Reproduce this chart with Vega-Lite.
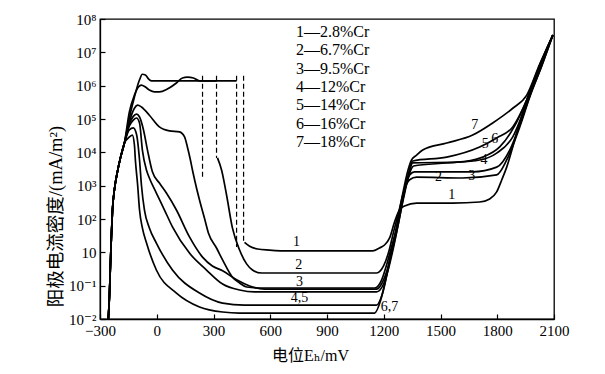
{
  "$schema": "https://vega.github.io/schema/vega-lite/v6.json",
  "width": 454,
  "height": 300,
  "autosize": "none",
  "padding": {"left": 100, "top": 19, "right": 51, "bottom": 55},
  "background": "white",
  "config": {
    "view": {"stroke": "black", "strokeWidth": 1.3},
    "axis": {
      "grid": false,
      "domainColor": "black",
      "domainWidth": 1.3,
      "tickColor": "black",
      "tickWidth": 1.2,
      "tickSize": -5,
      "labelColor": "black",
      "labelFont": "Liberation Serif, DejaVu Serif",
      "labelFontSize": 15,
      "labelFlush": false,
      "labelOverlap": false,
      "labelPadding": 9,
      "titleColor": "black",
      "titleFont": "Liberation Serif, Noto Sans CJK SC, DejaVu Serif",
      "titleFontWeight": "normal"
    }
  },
  "datasets": {
    "curves": [
      {"a":"1—2.8%Cr","s":"1a","x":-256,"y":0.1},{"a":"1—2.8%Cr","s":"1a","x":-250,"y":0.52},{"a":"1—2.8%Cr","s":"1a","x":-245,"y":4.2},{"a":"1—2.8%Cr","s":"1a","x":-240,"y":29},{"a":"1—2.8%Cr","s":"1a","x":-234,"y":186},{"a":"1—2.8%Cr","s":"1a","x":-224,"y":740},{"a":"1—2.8%Cr","s":"1a","x":-208,"y":2600},{"a":"1—2.8%Cr","s":"1a","x":-192,"y":6800},{"a":"1—2.8%Cr","s":"1a","x":-171,"y":19000},
      {"a":"1—2.8%Cr","s":"1a","x":-145,"y":107000},{"a":"1—2.8%Cr","s":"1a","x":-118,"y":460000},{"a":"1—2.8%Cr","s":"1a","x":-91,"y":1500000},{"a":"1—2.8%Cr","s":"1a","x":-76,"y":2200000},{"a":"1—2.8%Cr","s":"1a","x":-60,"y":2100000},{"a":"1—2.8%Cr","s":"1a","x":-44,"y":1600000},{"a":"1—2.8%Cr","s":"1a","x":-28,"y":1400000},{"a":"1—2.8%Cr","s":"1a","x":173,"y":1400000},{"a":"1—2.8%Cr","s":"1a","x":422,"y":1400000},
      {"a":"1—2.8%Cr","s":"1b","x":464,"y":20},{"a":"1—2.8%Cr","s":"1b","x":491,"y":15.3},{"a":"1—2.8%Cr","s":"1b","x":533,"y":12.6},{"a":"1—2.8%Cr","s":"1b","x":596,"y":11.7},{"a":"1—2.8%Cr","s":"1b","x":702,"y":11},{"a":"1—2.8%Cr","s":"1b","x":1141,"y":11},{"a":"1—2.8%Cr","s":"1b","x":1178,"y":13.5},{"a":"1—2.8%Cr","s":"1b","x":1204,"y":16.6},{"a":"1—2.8%Cr","s":"1b","x":1231,"y":27},{"a":"1—2.8%Cr","s":"1b","x":1257,"y":81},{"a":"1—2.8%Cr","s":"1b","x":1283,"y":186},{"a":"1—2.8%Cr","s":"1b","x":1310,"y":245},{"a":"1—2.8%Cr","s":"1b","x":1374,"y":300},{"a":"1—2.8%Cr","s":"1b","x":1564,"y":300},{"a":"1—2.8%Cr","s":"1b","x":1707,"y":324},{"a":"1—2.8%Cr","s":"1b","x":1760,"y":400},{"a":"1—2.8%Cr","s":"1b","x":1797,"y":650},{"a":"1—2.8%Cr","s":"1b","x":1824,"y":1500},{"a":"1—2.8%Cr","s":"1b","x":1850,"y":3600},{"a":"1—2.8%Cr","s":"1b","x":1903,"y":38000},{"a":"1—2.8%Cr","s":"1b","x":1956,"y":370000},{"a":"1—2.8%Cr","s":"1b","x":2025,"y":4200000},{"a":"1—2.8%Cr","s":"1b","x":2094,"y":33000000},

      {"a":"2—6.7%Cr","s":"2a","x":-256,"y":0.1},{"a":"2—6.7%Cr","s":"2a","x":-250,"y":0.52},{"a":"2—6.7%Cr","s":"2a","x":-245,"y":4.2},{"a":"2—6.7%Cr","s":"2a","x":-240,"y":29},{"a":"2—6.7%Cr","s":"2a","x":-234,"y":186},{"a":"2—6.7%Cr","s":"2a","x":-224,"y":740},{"a":"2—6.7%Cr","s":"2a","x":-208,"y":2600},{"a":"2—6.7%Cr","s":"2a","x":-192,"y":6800},{"a":"2—6.7%Cr","s":"2a","x":-171,"y":19000},
      {"a":"2—6.7%Cr","s":"2a","x":-145,"y":160000},{"a":"2—6.7%Cr","s":"2a","x":-118,"y":520000},{"a":"2—6.7%Cr","s":"2a","x":-97,"y":910000},{"a":"2—6.7%Cr","s":"2a","x":-81,"y":1040000},{"a":"2—6.7%Cr","s":"2a","x":-60,"y":910000},{"a":"2—6.7%Cr","s":"2a","x":-39,"y":740000},{"a":"2—6.7%Cr","s":"2a","x":-12,"y":650000},{"a":"2—6.7%Cr","s":"2a","x":14,"y":650000},{"a":"2—6.7%Cr","s":"2a","x":56,"y":790000},{"a":"2—6.7%Cr","s":"2a","x":104,"y":1200000},{"a":"2—6.7%Cr","s":"2a","x":136,"y":1700000},{"a":"2—6.7%Cr","s":"2a","x":162,"y":1800000},{"a":"2—6.7%Cr","s":"2a","x":194,"y":1700000},{"a":"2—6.7%Cr","s":"2a","x":226,"y":1400000},{"a":"2—6.7%Cr","s":"2a","x":316,"y":1400000},
      {"a":"2—6.7%Cr","s":"2b","x":321,"y":6800},{"a":"2—6.7%Cr","s":"2b","x":343,"y":2900},{"a":"2—6.7%Cr","s":"2b","x":369,"y":525},{"a":"2—6.7%Cr","s":"2b","x":400,"y":54},{"a":"2—6.7%Cr","s":"2b","x":438,"y":11.7},{"a":"2—6.7%Cr","s":"2b","x":475,"y":4.5},{"a":"2—6.7%Cr","s":"2b","x":506,"y":2.95},{"a":"2—6.7%Cr","s":"2b","x":554,"y":2.4},{"a":"2—6.7%Cr","s":"2b","x":755,"y":2.4},{"a":"2—6.7%Cr","s":"2b","x":1162,"y":2.4},{"a":"2—6.7%Cr","s":"2b","x":1199,"y":3.9},{"a":"2—6.7%Cr","s":"2b","x":1226,"y":10.2},{"a":"2—6.7%Cr","s":"2b","x":1252,"y":41},{"a":"2—6.7%Cr","s":"2b","x":1279,"y":162},{"a":"2—6.7%Cr","s":"2b","x":1305,"y":650},{"a":"2—6.7%Cr","s":"2b","x":1337,"y":1500},{"a":"2—6.7%Cr","s":"2b","x":1374,"y":1800},{"a":"2—6.7%Cr","s":"2b","x":1617,"y":1700},{"a":"2—6.7%Cr","s":"2b","x":1797,"y":2100},{"a":"2—6.7%Cr","s":"2b","x":1850,"y":5900},{"a":"2—6.7%Cr","s":"2b","x":1919,"y":58000},{"a":"2—6.7%Cr","s":"2b","x":1972,"y":460000},{"a":"2—6.7%Cr","s":"2b","x":2035,"y":3900000},{"a":"2—6.7%Cr","s":"2b","x":2094,"y":33000000},

      {"a":"3—9.5%Cr","s":"3","x":-256,"y":0.1},{"a":"3—9.5%Cr","s":"3","x":-250,"y":0.52},{"a":"3—9.5%Cr","s":"3","x":-245,"y":4.2},{"a":"3—9.5%Cr","s":"3","x":-240,"y":29},{"a":"3—9.5%Cr","s":"3","x":-234,"y":186},{"a":"3—9.5%Cr","s":"3","x":-224,"y":740},{"a":"3—9.5%Cr","s":"3","x":-208,"y":2600},{"a":"3—9.5%Cr","s":"3","x":-192,"y":6800},{"a":"3—9.5%Cr","s":"3","x":-171,"y":19000},
      {"a":"3—9.5%Cr","s":"3","x":-145,"y":81000},{"a":"3—9.5%Cr","s":"3","x":-118,"y":210000},{"a":"3—9.5%Cr","s":"3","x":-101,"y":260000},{"a":"3—9.5%Cr","s":"3","x":-81,"y":230000},{"a":"3—9.5%Cr","s":"3","x":-39,"y":130000},{"a":"3—9.5%Cr","s":"3","x":14,"y":58000},{"a":"3—9.5%Cr","s":"3","x":67,"y":44000},{"a":"3—9.5%Cr","s":"3","x":120,"y":41000},{"a":"3—9.5%Cr","s":"3","x":147,"y":29000},{"a":"3—9.5%Cr","s":"3","x":162,"y":14500},{"a":"3—9.5%Cr","s":"3","x":178,"y":5900},{"a":"3—9.5%Cr","s":"3","x":189,"y":2900},{"a":"3—9.5%Cr","s":"3","x":200,"y":1500},{"a":"3—9.5%Cr","s":"3","x":226,"y":370},{"a":"3—9.5%Cr","s":"3","x":252,"y":107},{"a":"3—9.5%Cr","s":"3","x":273,"y":38},{"a":"3—9.5%Cr","s":"3","x":316,"y":13.5},{"a":"3—9.5%Cr","s":"3","x":348,"y":5.9},{"a":"3—9.5%Cr","s":"3","x":400,"y":1.8},{"a":"3—9.5%Cr","s":"3","x":438,"y":1.2},{"a":"3—9.5%Cr","s":"3","x":475,"y":0.91},{"a":"3—9.5%Cr","s":"3","x":544,"y":0.85},{"a":"3—9.5%Cr","s":"3","x":1152,"y":0.85},{"a":"3—9.5%Cr","s":"3","x":1189,"y":1.5},{"a":"3—9.5%Cr","s":"3","x":1215,"y":4.2},{"a":"3—9.5%Cr","s":"3","x":1241,"y":14.5},{"a":"3—9.5%Cr","s":"3","x":1268,"y":54},{"a":"3—9.5%Cr","s":"3","x":1294,"y":263},{"a":"3—9.5%Cr","s":"3","x":1316,"y":980},{"a":"3—9.5%Cr","s":"3","x":1337,"y":2100},{"a":"3—9.5%Cr","s":"3","x":1363,"y":2600},{"a":"3—9.5%Cr","s":"3","x":1670,"y":2600},{"a":"3—9.5%Cr","s":"3","x":1797,"y":3600},{"a":"3—9.5%Cr","s":"3","x":1866,"y":11700},{"a":"3—9.5%Cr","s":"3","x":1919,"y":66000},{"a":"3—9.5%Cr","s":"3","x":1972,"y":490000},{"a":"3—9.5%Cr","s":"3","x":2035,"y":3900000},{"a":"3—9.5%Cr","s":"3","x":2094,"y":33000000},

      {"a":"4—12%Cr","s":"4","x":-256,"y":0.1},{"a":"4—12%Cr","s":"4","x":-250,"y":0.52},{"a":"4—12%Cr","s":"4","x":-245,"y":4.2},{"a":"4—12%Cr","s":"4","x":-240,"y":29},{"a":"4—12%Cr","s":"4","x":-234,"y":186},{"a":"4—12%Cr","s":"4","x":-224,"y":740},{"a":"4—12%Cr","s":"4","x":-208,"y":2600},{"a":"4—12%Cr","s":"4","x":-192,"y":6800},{"a":"4—12%Cr","s":"4","x":-171,"y":19000},
      {"a":"4—12%Cr","s":"4","x":-145,"y":71000},{"a":"4—12%Cr","s":"4","x":-124,"y":120000},{"a":"4—12%Cr","s":"4","x":-107,"y":140000},{"a":"4—12%Cr","s":"4","x":-91,"y":115000},{"a":"4—12%Cr","s":"4","x":-70,"y":47000},{"a":"4—12%Cr","s":"4","x":-49,"y":11700},{"a":"4—12%Cr","s":"4","x":-23,"y":2600},{"a":"4—12%Cr","s":"4","x":14,"y":1200},{"a":"4—12%Cr","s":"4","x":51,"y":600},{"a":"4—12%Cr","s":"4","x":104,"y":186},{"a":"4—12%Cr","s":"4","x":173,"y":29},{"a":"4—12%Cr","s":"4","x":242,"y":7.2},{"a":"4—12%Cr","s":"4","x":294,"y":3.9},{"a":"4—12%Cr","s":"4","x":348,"y":2.8},{"a":"4—12%Cr","s":"4","x":422,"y":1.5},{"a":"4—12%Cr","s":"4","x":491,"y":0.98},{"a":"4—12%Cr","s":"4","x":570,"y":0.79},{"a":"4—12%Cr","s":"4","x":1162,"y":0.79},{"a":"4—12%Cr","s":"4","x":1199,"y":1.5},{"a":"4—12%Cr","s":"4","x":1226,"y":4.2},{"a":"4—12%Cr","s":"4","x":1252,"y":16.6},{"a":"4—12%Cr","s":"4","x":1279,"y":81},{"a":"4—12%Cr","s":"4","x":1305,"y":430},{"a":"4—12%Cr","s":"4","x":1332,"y":1950},{"a":"4—12%Cr","s":"4","x":1358,"y":3900},{"a":"4—12%Cr","s":"4","x":1533,"y":4800},{"a":"4—12%Cr","s":"4","x":1707,"y":5900},{"a":"4—12%Cr","s":"4","x":1797,"y":9500},{"a":"4—12%Cr","s":"4","x":1882,"y":29000},{"a":"4—12%Cr","s":"4","x":1956,"y":300000},{"a":"4—12%Cr","s":"4","x":2025,"y":3400000},{"a":"4—12%Cr","s":"4","x":2094,"y":33000000},

      {"a":"5—14%Cr","s":"5","x":-256,"y":0.1},{"a":"5—14%Cr","s":"5","x":-250,"y":0.52},{"a":"5—14%Cr","s":"5","x":-245,"y":4.2},{"a":"5—14%Cr","s":"5","x":-240,"y":29},{"a":"5—14%Cr","s":"5","x":-234,"y":186},{"a":"5—14%Cr","s":"5","x":-224,"y":740},{"a":"5—14%Cr","s":"5","x":-208,"y":2600},{"a":"5—14%Cr","s":"5","x":-192,"y":6800},{"a":"5—14%Cr","s":"5","x":-171,"y":19000},
      {"a":"5—14%Cr","s":"5","x":-145,"y":62000},{"a":"5—14%Cr","s":"5","x":-124,"y":93000},{"a":"5—14%Cr","s":"5","x":-107,"y":107000},{"a":"5—14%Cr","s":"5","x":-91,"y":76000},{"a":"5—14%Cr","s":"5","x":-76,"y":11700},{"a":"5—14%Cr","s":"5","x":-54,"y":2900},{"a":"5—14%Cr","s":"5","x":-39,"y":1700},{"a":"5—14%Cr","s":"5","x":-2,"y":600},{"a":"5—14%Cr","s":"5","x":41,"y":186},{"a":"5—14%Cr","s":"5","x":83,"y":58},{"a":"5—14%Cr","s":"5","x":173,"y":9.5},{"a":"5—14%Cr","s":"5","x":263,"y":2.95},{"a":"5—14%Cr","s":"5","x":348,"y":1.12},{"a":"5—14%Cr","s":"5","x":438,"y":0.74},{"a":"5—14%Cr","s":"5","x":517,"y":0.65},{"a":"5—14%Cr","s":"5","x":1162,"y":0.65},{"a":"5—14%Cr","s":"5","x":1199,"y":1.12},{"a":"5—14%Cr","s":"5","x":1226,"y":3.4},{"a":"5—14%Cr","s":"5","x":1252,"y":14.5},{"a":"5—14%Cr","s":"5","x":1279,"y":81},{"a":"5—14%Cr","s":"5","x":1305,"y":490},{"a":"5—14%Cr","s":"5","x":1332,"y":2100},{"a":"5—14%Cr","s":"5","x":1353,"y":4800},{"a":"5—14%Cr","s":"5","x":1586,"y":5100},{"a":"5—14%Cr","s":"5","x":1723,"y":7200},{"a":"5—14%Cr","s":"5","x":1813,"y":14500},{"a":"5—14%Cr","s":"5","x":1892,"y":62000},{"a":"5—14%Cr","s":"5","x":1956,"y":370000},{"a":"5—14%Cr","s":"5","x":2025,"y":3600000},{"a":"5—14%Cr","s":"5","x":2094,"y":33000000},

      {"a":"6—16%Cr","s":"6","x":-256,"y":0.1},{"a":"6—16%Cr","s":"6","x":-250,"y":0.52},{"a":"6—16%Cr","s":"6","x":-245,"y":4.2},{"a":"6—16%Cr","s":"6","x":-240,"y":29},{"a":"6—16%Cr","s":"6","x":-234,"y":186},{"a":"6—16%Cr","s":"6","x":-224,"y":740},{"a":"6—16%Cr","s":"6","x":-208,"y":2600},{"a":"6—16%Cr","s":"6","x":-192,"y":6800},{"a":"6—16%Cr","s":"6","x":-171,"y":19000},
      {"a":"6—16%Cr","s":"6","x":-145,"y":47000},{"a":"6—16%Cr","s":"6","x":-124,"y":54000},{"a":"6—16%Cr","s":"6","x":-107,"y":35000},{"a":"6—16%Cr","s":"6","x":-91,"y":5900},{"a":"6—16%Cr","s":"6","x":-81,"y":1050},{"a":"6—16%Cr","s":"6","x":-65,"y":186},{"a":"6—16%Cr","s":"6","x":-39,"y":54},{"a":"6—16%Cr","s":"6","x":-2,"y":19},{"a":"6—16%Cr","s":"6","x":83,"y":2.95},{"a":"6—16%Cr","s":"6","x":226,"y":0.6},{"a":"6—16%Cr","s":"6","x":348,"y":0.3},{"a":"6—16%Cr","s":"6","x":464,"y":0.26},{"a":"6—16%Cr","s":"6","x":1162,"y":0.26},{"a":"6—16%Cr","s":"6","x":1194,"y":0.6},{"a":"6—16%Cr","s":"6","x":1220,"y":2.6},{"a":"6—16%Cr","s":"6","x":1247,"y":13.5},{"a":"6—16%Cr","s":"6","x":1273,"y":71},{"a":"6—16%Cr","s":"6","x":1300,"y":430},{"a":"6—16%Cr","s":"6","x":1326,"y":1800},{"a":"6—16%Cr","s":"6","x":1353,"y":5500},{"a":"6—16%Cr","s":"6","x":1533,"y":7200},{"a":"6—16%Cr","s":"6","x":1707,"y":14500},{"a":"6—16%Cr","s":"6","x":1797,"y":27000},{"a":"6—16%Cr","s":"6","x":1882,"y":58000},{"a":"6—16%Cr","s":"6","x":1956,"y":370000},{"a":"6—16%Cr","s":"6","x":2025,"y":3900000},{"a":"6—16%Cr","s":"6","x":2094,"y":33000000},

      {"a":"7—18%Cr","s":"7","x":-256,"y":0.1},{"a":"7—18%Cr","s":"7","x":-250,"y":0.52},{"a":"7—18%Cr","s":"7","x":-245,"y":4.2},{"a":"7—18%Cr","s":"7","x":-240,"y":29},{"a":"7—18%Cr","s":"7","x":-234,"y":186},{"a":"7—18%Cr","s":"7","x":-224,"y":740},{"a":"7—18%Cr","s":"7","x":-208,"y":2600},{"a":"7—18%Cr","s":"7","x":-192,"y":6800},{"a":"7—18%Cr","s":"7","x":-171,"y":19000},
      {"a":"7—18%Cr","s":"7","x":-150,"y":27000},{"a":"7—18%Cr","s":"7","x":-129,"y":33000},{"a":"7—18%Cr","s":"7","x":-118,"y":16600},{"a":"7—18%Cr","s":"7","x":-113,"y":5900},{"a":"7—18%Cr","s":"7","x":-101,"y":1050},{"a":"7—18%Cr","s":"7","x":-91,"y":186},{"a":"7—18%Cr","s":"7","x":-76,"y":54},{"a":"7—18%Cr","s":"7","x":-54,"y":19},{"a":"7—18%Cr","s":"7","x":-2,"y":2.95},{"a":"7—18%Cr","s":"7","x":104,"y":0.6},{"a":"7—18%Cr","s":"7","x":226,"y":0.23},{"a":"7—18%Cr","s":"7","x":348,"y":0.162},{"a":"7—18%Cr","s":"7","x":438,"y":0.151},{"a":"7—18%Cr","s":"7","x":1152,"y":0.151},{"a":"7—18%Cr","s":"7","x":1184,"y":0.37},{"a":"7—18%Cr","s":"7","x":1210,"y":1.5},{"a":"7—18%Cr","s":"7","x":1236,"y":8.3},{"a":"7—18%Cr","s":"7","x":1263,"y":41},{"a":"7—18%Cr","s":"7","x":1289,"y":263},{"a":"7—18%Cr","s":"7","x":1310,"y":1050},{"a":"7—18%Cr","s":"7","x":1326,"y":2600},{"a":"7—18%Cr","s":"7","x":1347,"y":5900},{"a":"7—18%Cr","s":"7","x":1374,"y":8300},{"a":"7—18%Cr","s":"7","x":1406,"y":11700},{"a":"7—18%Cr","s":"7","x":1533,"y":19000},{"a":"7—18%Cr","s":"7","x":1670,"y":33000},{"a":"7—18%Cr","s":"7","x":1776,"y":76000},{"a":"7—18%Cr","s":"7","x":1882,"y":210000},{"a":"7—18%Cr","s":"7","x":1956,"y":520000},{"a":"7—18%Cr","s":"7","x":2025,"y":4500000},{"a":"7—18%Cr","s":"7","x":2094,"y":33000000}
    ],
    "dashes": [
      {"s":"A","x":242,"y":2000000},{"s":"A","x":242,"y":1800},
      {"s":"B","x":316,"y":2000000},{"s":"B","x":316,"y":6800},
      {"s":"C","x":422,"y":2000000},{"s":"C","x":422,"y":14.5},
      {"s":"D","x":459,"y":2000000},{"s":"D","x":459,"y":20}
    ],
    "labels": [
      {"t":"1","x":739,"y":20},
      {"t":"2","x":750,"y":4.2},
      {"t":"3","x":755,"y":1.26},
      {"t":"4,5","x":755,"y":0.42},
      {"t":"6,7","x":1231,"y":0.23},
      {"t":"7","x":1681,"y":66000},
      {"t":"5","x":1737,"y":17500},
      {"t":"6","x":1787,"y":25000},
      {"t":"4","x":1730,"y":6000},
      {"t":"2","x":1490,"y":1800},
      {"t":"3","x":1665,"y":1950},
      {"t":"1","x":1560,"y":525}
    ]
  },
  "encoding": {
    "x": {
      "field": "x", "type": "quantitative",
      "scale": {"domain": [-300, 2100], "nice": false, "zero": false},
      "axis": {
        "values": [-300, 0, 300, 600, 900, 1200, 1500, 1800, 2100],
        "format": "d",
        "title": "电位Eₕ/mV",
        "titleFontSize": 16,
        "titleX": 210, "titleY": 36,
        "titleAlign": "center", "titleBaseline": "middle"
      }
    },
    "y": {
      "field": "y", "type": "quantitative",
      "scale": {"type": "log", "domain": [0.1, 100000000], "nice": false},
      "axis": {
        "values": [0.1, 1, 10, 100, 1000, 10000, 100000, 1000000, 10000000, 100000000],
        "labelExpr": "datum.value < 0.5 ? '10⁻²' : datum.value < 5 ? '10⁻¹' : datum.value < 50 ? '10' : datum.value < 500 ? '10²' : datum.value < 5000 ? '10³' : datum.value < 50000 ? '10⁴' : datum.value < 500000 ? '10⁵' : datum.value < 5000000 ? '10⁶' : datum.value < 50000000 ? '10⁷' : '10⁸'",
        "title": "阳极电流密度/(mA/m²)",
        "titleFontSize": 18.5,
        "titleAngle": -90,
        "titleX": -45, "titleY": 197,
        "titleAlign": "center", "titleBaseline": "middle"
      }
    }
  },
  "layer": [
    {
      "data": {"name": "curves"},
      "mark": {"type": "line", "interpolate": "monotone", "strokeWidth": 1.7, "clip": true},
      "encoding": {
        "color": {
          "field": "a", "type": "nominal",
          "scale": {"range": ["black", "black", "black", "black", "black", "black", "black"]},
          "legend": {
            "orient": "none", "legendX": 180, "legendY": 5,
            "title": null,
            "labelFont": "Liberation Serif, DejaVu Serif",
            "labelFontSize": 16, "labelColor": "black",
            "symbolSize": 0, "symbolOpacity": 0, "symbolStrokeWidth": 0,
            "labelOffset": 0, "rowPadding": 2.3, "padding": 0
          }
        },
        "detail": {"field": "s"}
      }
    },
    {
      "data": {"name": "dashes"},
      "mark": {"type": "line", "strokeDash": [5, 3], "strokeWidth": 1.2, "color": "black", "clip": true},
      "encoding": {"detail": {"field": "s"}}
    },
    {
      "data": {"name": "labels"},
      "mark": {"type": "text", "font": "Liberation Serif, DejaVu Serif", "fontSize": 14, "color": "black", "align": "center", "baseline": "middle"},
      "encoding": {"text": {"field": "t"}}
    }
  ]
}
